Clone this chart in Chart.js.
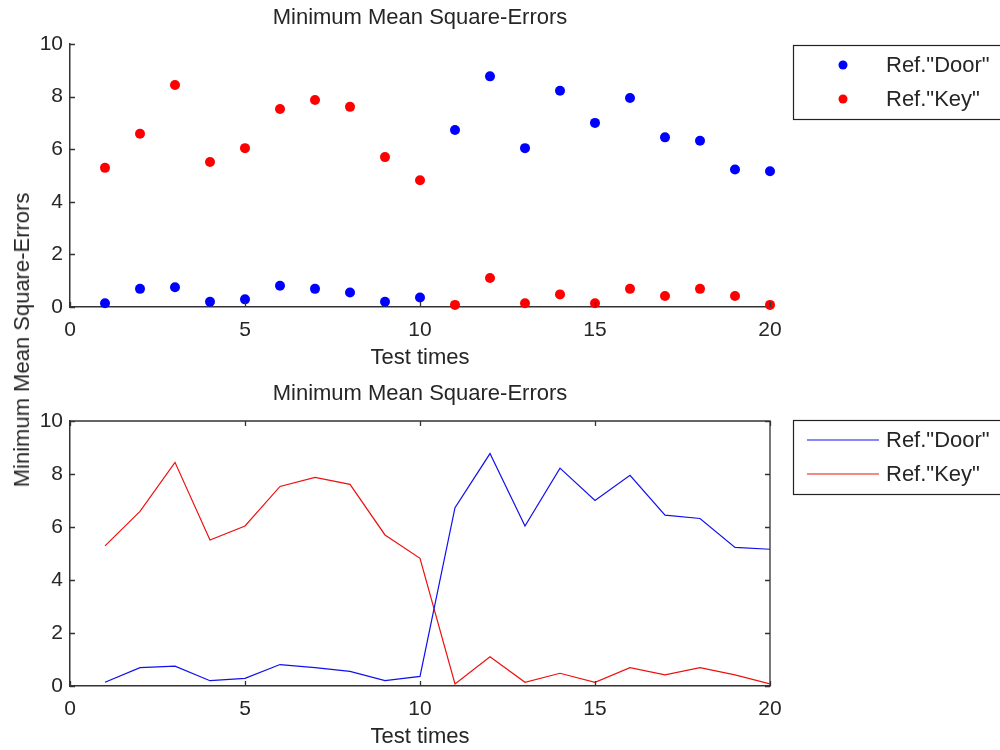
<!DOCTYPE html>
<html>
<head>
<meta charset="utf-8">
<script src="https://cdn.jsdelivr.net/npm/chart.js@4.4.0/dist/chart.umd.min.js"></script>
<style>
  html, body { margin: 0; padding: 0; background: #fff; }
  #wrap { position: relative; width: 1000px; height: 750px; overflow: hidden; background: #fff; }
  .panel { position: absolute; left: 0; width: 1000px; height: 375px; }
  #ylab {
    position: absolute; left: 22px; top: 340px;
    transform: translate(-50%, -50%) rotate(-90deg);
    white-space: nowrap; color: #262626;
    font: 22px 'Liberation Sans', Arial, sans-serif;
  }
</style>
</head>
<body>
<div id="wrap">
  <div class="panel" style="top:0"><canvas id="scatterChart" width="1000" height="375"></canvas></div>
  <div class="panel" style="top:375px"><canvas id="lineChart" width="1000" height="375"></canvas></div>
  <div id="ylab">Minimum Mean Square-Errors</div>
</div>
<script>
// Test runs and the minimum mean square error against each reference
const testTimes = [1, 2, 3, 4, 5, 6, 7, 8, 9, 10, 11, 12, 13, 14, 15, 16, 17, 18, 19, 20];
const doorErrors = [0.14, 0.69, 0.75, 0.20, 0.29, 0.81, 0.69, 0.55, 0.20, 0.36,
                    6.73, 8.77, 6.04, 8.22, 7.00, 7.95, 6.45, 6.32, 5.23, 5.16];
const keyErrors  = [5.29, 6.59, 8.44, 5.51, 6.04, 7.53, 7.87, 7.61, 5.70, 4.82,
                    0.08, 1.10, 0.14, 0.48, 0.14, 0.69, 0.42, 0.69, 0.42, 0.08];
const seriesNames = ['Ref."Door"', 'Ref."Key"'];
const xTicks = [0, 5, 10, 15, 20];
const yTicks = [0, 2, 4, 6, 8, 10];
const panelTitle = 'Minimum Mean Square-Errors';
const xTitle = 'Test times';

const FONT = "'Liberation Sans', Arial, sans-serif";
const INK = '#262626';
const AXIS = '#333333';

function points(ys) {
  return testTimes.map((t, i) => ({ x: t, y: ys[i] }));
}

// Inward tick marks, optional closed box, centred title and a boxed legend
const frameDecor = {
  id: 'frameDecor',
  afterDraw(chart, args, opts) {
    const ctx = chart.ctx;
    const a = chart.chartArea;
    const xs = chart.scales.x, ys = chart.scales.y;
    const len = 5;
    ctx.save();
    ctx.strokeStyle = AXIS;
    ctx.lineWidth = 1.3;
    ctx.beginPath();
    if (opts.box) {
      ctx.moveTo(a.left, a.top); ctx.lineTo(a.right, a.top); ctx.lineTo(a.right, a.bottom);
    }
    xs.ticks.forEach(t => {
      const px = Math.round(xs.getPixelForValue(t.value)) + 0.5;
      ctx.moveTo(px, a.bottom); ctx.lineTo(px, a.bottom - len);
      if (opts.box) { ctx.moveTo(px, a.top); ctx.lineTo(px, a.top + len); }
    });
    ys.ticks.forEach(t => {
      const py = Math.round(ys.getPixelForValue(t.value)) + 0.5;
      ctx.moveTo(a.left, py); ctx.lineTo(a.left + len, py);
      if (opts.box) { ctx.moveTo(a.right, py); ctx.lineTo(a.right - len, py); }
    });
    ctx.stroke();

    // title
    ctx.fillStyle = INK;
    ctx.font = '22px ' + FONT;
    ctx.textAlign = 'center';
    ctx.textBaseline = 'middle';
    ctx.fillText(opts.title, (a.left + a.right) / 2, opts.titleY);

    // legend
    const lx = 793.5, ly = 45.5, lw = 230, lh = 74;
    ctx.fillStyle = '#fff';
    ctx.fillRect(lx, ly, lw, lh);
    ctx.strokeStyle = '#222';
    ctx.lineWidth = 1.2;
    ctx.strokeRect(lx, ly, lw, lh);
    chart.data.datasets.forEach((ds, i) => {
      const cy = ly + 19.5 + i * 34;
      if (opts.kind === 'dot') {
        ctx.fillStyle = ds.backgroundColor;
        ctx.beginPath();
        ctx.arc(843, cy, 4.5, 0, Math.PI * 2);
        ctx.fill();
      } else {
        ctx.strokeStyle = ds.borderColor;
        ctx.lineWidth = 1.2;
        ctx.beginPath();
        ctx.moveTo(807, cy); ctx.lineTo(879, cy);
        ctx.stroke();
      }
      ctx.fillStyle = INK;
      ctx.font = '22px ' + FONT;
      ctx.textAlign = 'left';
      ctx.textBaseline = 'middle';
      ctx.fillText(ds.label, 886, cy + 1);
    });
    ctx.restore();
  }
};

function scales(xHeight) {
  return {
    x: {
      type: 'linear', min: 0, max: 20,
      afterBuildTicks: s => { s.ticks = xTicks.map(v => ({ value: v })); },
      afterFit: s => { s.height = xHeight; },
      grid: { display: false, drawTicks: false },
      border: { display: true, color: AXIS, width: 1.5 },
      ticks: { color: INK, font: { family: FONT, size: 21 }, padding: 11, maxRotation: 0 },
      title: { display: true, text: xTitle, color: INK, font: { family: FONT, size: 22 }, padding: { top: 0, bottom: 0 } }
    },
    y: {
      type: 'linear', min: 0, max: 10,
      afterBuildTicks: s => { s.ticks = yTicks.map(v => ({ value: v })); },
      afterFit: s => { s.width = 70; },
      grid: { display: false, drawTicks: false },
      border: { display: true, color: AXIS, width: 1.5 },
      ticks: { color: INK, font: { family: FONT, size: 21 }, padding: 7 }
    }
  };
}

Chart.register(frameDecor);

// Upper panel: markers only
new Chart(document.getElementById('scatterChart'), {
  type: 'scatter',
  data: {
    datasets: [
      { label: seriesNames[0], data: points(doorErrors), backgroundColor: '#0000ff', borderColor: '#0000ff', pointRadius: 5, pointBorderWidth: 0, clip: false },
      { label: seriesNames[1], data: points(keyErrors), backgroundColor: '#ff0000', borderColor: '#ff0000', pointRadius: 5, pointBorderWidth: 0, clip: false }
    ]
  },
  options: {
    responsive: false, animation: false,
    layout: { padding: { left: 0, right: 230, top: 44, bottom: 4 } },
    scales: scales(64),
    plugins: {
      legend: { display: false }, tooltip: { enabled: false },
      frameDecor: { box: false, title: panelTitle, titleY: 18, kind: 'dot' }
    }
  }
});

// Lower panel: connected lines in a closed frame
new Chart(document.getElementById('lineChart'), {
  type: 'line',
  data: {
    datasets: [
      { label: seriesNames[0], data: points(doorErrors), borderColor: '#1010ee', backgroundColor: '#1010ee', borderWidth: 1.2, pointRadius: 0, tension: 0, fill: false },
      { label: seriesNames[1], data: points(keyErrors), borderColor: '#ee1010', backgroundColor: '#ee1010', borderWidth: 1.2, pointRadius: 0, tension: 0, fill: false }
    ]
  },
  options: {
    responsive: false, animation: false,
    layout: { padding: { left: 0, right: 230, top: 46, bottom: 0 } },
    scales: scales(64),
    plugins: {
      legend: { display: false }, tooltip: { enabled: false },
      frameDecor: { box: true, title: panelTitle, titleY: 19, kind: 'line' }
    }
  }
});
</script>
</body>
</html>
